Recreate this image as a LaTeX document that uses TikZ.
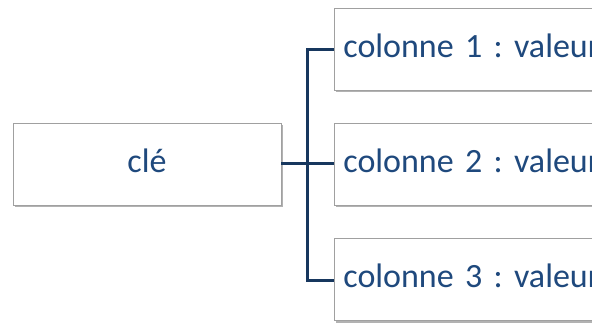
\documentclass[tikz,border=0pt]{standalone}
\usepackage{fontspec}
\setmainfont{Carlito}
\usetikzlibrary{shadows}
\definecolor{txtblue}{RGB}{31,73,125}
\definecolor{linenavy}{RGB}{23,55,94}
\definecolor{boxgray}{RGB}{160,160,160}
\begin{document}
\frenchspacing
\begin{tikzpicture}[x=1pt,y=1pt,
  box/.style={draw=boxgray, line width=0.8pt, fill=white, minimum height=82pt,
    font=\fontsize{34}{40}\selectfont, text=txtblue, text height=23pt, text depth=6pt,
    drop shadow={opacity=0.5, fill=black!60, shadow xshift=2pt, shadow yshift=-2.5pt}},
  colbox/.style={box, anchor=west, text width=380pt, align=left, inner xsep=9pt},
  conn/.style={draw=linenavy, line width=3pt}]
\useasboundingbox (0,0) rectangle (592,323);
\begin{scope}
\clip (0,0) rectangle (592,323);
\node[box, minimum width=268pt] (key) at (147,159) {clé};
\node[colbox] (c1) at (334,274) {colonne 1 : valeur};
\node[colbox] (c2) at (334,159) {colonne 2 : valeur};
\node[colbox] (c3) at (334,43.5) {colonne 3 : valeur};
\coordinate (j) at (307.5,159);
\draw[conn] (key.east) -- (j) -- (c2.west);
\draw[conn] (c1.west |- 0,273) -| (j) |- (c3.west |- 0,42);
\end{scope}
\end{tikzpicture}
\end{document}
